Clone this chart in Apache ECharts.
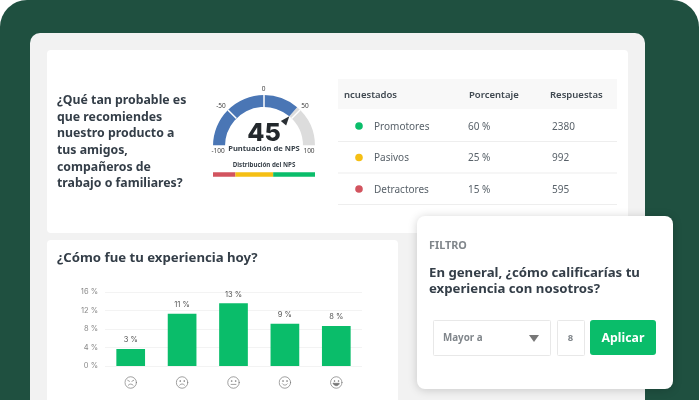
<!DOCTYPE html>
<html>
<head>
<meta charset="utf-8" />
<title>NPS</title>
<script src="https://cdn.jsdelivr.net/npm/echarts@6/dist/echarts.min.js"></script>
<style>
html,body{margin:0;padding:0;background:#fff;}
#main{width:699px;height:400px;}
</style>
</head>
<body>
<div id="main"></div>
<script type="text/javascript">
// datos
var caritas = ['muyMal', 'mal', 'neutral', 'bien', 'muyBien'];
var experiencia = [3.68, 11.3, 13.55, 9.15, 8.65];
var experienciaEtiquetas = ['3 %', '11 %', '13 %', '9 %', '8 %'];
var npsValor = 45;
var npsTicks = ['-100', '-50', '0', '50', '100'];
var distribucionNombres = ['Detractores', 'Pasivos', 'Promotores'];
var distribucion = [22, 37, 41];
var distribucionColores = ['#d2545f', '#f5bf14', '#0abd6a'];
var tablaCabecera = ['ncuestados', 'Porcentaje', 'Respuestas'];
var tablaNombres = ['Promotores', 'Pasivos', 'Detractores'];
var tablaPorcentaje = ['60 %', '25 %', '15 %'];
var tablaRespuestas = ['2380', '992', '595'];
var tablaColores = ['#0abd6a', '#f5bf14', '#d2545f'];
var preguntaLineas = ['¿Qué tan probable es', 'que recomiendes', 'nuestro producto a', 'tus amigos,', 'compañeros de', 'trabajo o familiares?'];
var filtroLineas = ['En general, ¿cómo calificarías tu', 'experiencia con nosotros?'];

var FONT = '"Noto Sans", sans-serif';
var DARK = '#343e48';

function rect(x, y, w, h, fill, r, extra) {
	var s = {fill: fill};
	for (var k in extra) s[k] = extra[k];
	return {type: 'rect', z: -1, shape: {x: x, y: y, width: w, height: h, r: r || 0}, style: s, silent: true};
}
function texto(t, x, y, size, weight, color, align) {
	return {type: 'text', z: 10, x: x, y: y + 0.7, silent: true, style: {
		text: t, fill: color, textAlign: align || 'left', textVerticalAlign: 'middle',
		font: weight + ' ' + size + 'px ' + FONT
	}};
}

// caritas como svg
function carita(boca, ojos) {
	var svg = '<svg xmlns="http://www.w3.org/2000/svg" width="48" height="48" viewBox="0 0 24 24" fill="none" stroke="#777" stroke-width="1.3" stroke-linecap="round">'
		+ '<circle cx="12" cy="12" r="10.6"/>' + ojos + boca + '</svg>';
	return 'data:image/svg+xml;charset=utf-8,' + encodeURIComponent(svg);
}
var ojosNormal = '<circle cx="8.3" cy="9.3" r=".7"/><circle cx="15.7" cy="9.3" r=".7"/>';
var caritaSvg = {
	muyMal: carita('<path d="M7.5 17c2.5-3 6.500-3 9 0"/>', '<path d="M6.500 8l3.300 1.800M17.500 8l-3.300 1.800"/>'),
	mal: carita('<path d="M7.500 16.800c2.500-3 6.500-3 9 0"/>', ojosNormal),
	neutral: carita('<path d="M7.500 15.500h9"/>', ojosNormal),
	bien: carita('<path d="M7.500 14.500c2.500 3.200 6.500 3.200 9 0"/>', ojosNormal),
	muyBien: carita('<path d="M6.500 13.500h11c-.5 6-10.500 6-11 0z" fill="#777"/>', ojosNormal)
};
var caritaRich = {};
caritas.forEach(function (c) {
	caritaRich[c] = {width: 13, height: 13, backgroundColor: {image: caritaSvg[c]}};
});

// fondo y tarjetas
var grafico = [
	rect(0, 0, 699, 440, '#1f5040', 27),
	rect(30, 33, 615, 400, '#f2f2f2', 10),
	rect(47, 50, 581, 183, '#ffffff', 4),
	rect(47, 240, 351, 190, '#ffffff', 4),
	rect(338, 79, 279, 30, '#f8f8f8', 0)
];
preguntaLineas.forEach(function (l, i) {
	grafico.push(texto(l, 57, 100 + i * 16.6, 12.3, 700, DARK));
});
grafico.push(texto('¿Cómo fue tu experiencia hoy?', 57, 258, 13.2, 700, DARK));

// tabla
var tablaX = [344, 469, 550];
tablaCabecera.forEach(function (t, i) {
	grafico.push(texto(t, tablaX[i], 95, 9.5, 600, '#3f4850'));
});
tablaNombres.forEach(function (n, i) {
	var y = 126 + i * 31.5;
	grafico.push({type: 'circle', z: 10, silent: true, shape: {cx: 359, cy: y, r: 3.8}, style: {fill: tablaColores[i]}});
	grafico.push(texto(n, 374, y, 10, 400, '#59626a'));
	grafico.push(texto(tablaPorcentaje[i], 468, y, 10, 400, '#59626a'));
	grafico.push(texto(tablaRespuestas[i], 552, y, 10, 400, '#59626a'));
	grafico.push(rect(338, 141 + i * 31.5, 279, 1, '#eeeeee'));
});

// etiquetas del medidor: no siguen un radio fijo
var ticksX = [218, 221, 263.5, 305, 309];
var ticksY = [150, 105.5, 88, 105.5, 150];
npsTicks.forEach(function (t, i) {
	grafico.push(texto(t, ticksX[i], ticksY[i], 6.5, 400, '#444', 'center'));
});
grafico.push(texto('Distribución del NPS', 264, 165, 6.2, 700, '#3a434b', 'center'));

// filtro
var filtro = [
	rect(417, 216, 256, 173, '#ffffff', 8, {shadowBlur: 10, shadowColor: 'rgba(0,0,0,0.18)', shadowOffsetY: 1}),
	rect(433.5, 320.5, 117, 35, '#ffffff', 1, {stroke: '#e8e8e8', lineWidth: 1}),
	rect(557.5, 320.5, 27, 35, '#ffffff', 1, {stroke: '#e8e8e8', lineWidth: 1}),
	rect(590, 320, 66, 35, '#0abd6a', 3),
	{type: 'polygon', z: 10, silent: true, shape: {points: [[529, 335], [539, 335], [534, 342]]}, style: {fill: '#777'}},
	texto('FILTRO', 429, 245, 10.8, 700, '#80868b'),
	texto('Mayor a', 443, 338, 9.8, 700, '#80868b'),
	texto('8', 570.500, 338, 9.5, 700, '#80868b', 'center'),
	texto('Aplicar', 623, 338, 12.3, 700, '#ffffff', 'center')
];
filtroLineas.forEach(function (l, i) {
	filtro.push(texto(l, 429, 273 + i * 15.3, 13.2, 700, DARK));
});
filtro.forEach(function (e, i) { if (e.z === -1) e.z = 5; });
grafico = grafico.concat(filtro);

var series = [
	{
		type: 'gauge',
		center: [264, 146],
		radius: 51,
		startAngle: 180,
		endAngle: 0,
		min: -100,
		max: 100,
		splitNumber: 4,
		silent: true,
		progress: {show: false},
		axisLine: {
			lineStyle: {
				width: 12,
				color: [[(npsValor + 100) / 200, '#4a76b5'], [1, '#dcdcdc']]
			}
		},
		axisTick: {show: false},
		splitLine: {distance: -12, length: 12, lineStyle: {color: '#ffffff', width: 1.5}},
		axisLabel: {show: false},
		pointer: {
			icon: 'triangle',
			length: 9,
			width: 7,
			offsetCenter: [0, -30],
			itemStyle: {color: '#2a2f33'}
		},
		anchor: {show: false},
		title: {offsetCenter: [0, 2.5], fontSize: 7.6, fontWeight: 700, fontFamily: FONT, color: '#3a434b'},
		detail: {offsetCenter: [0, -13], fontSize: 25, fontWeight: 800, fontFamily: 'Inter', color: '#23282c', formatter: '{value}'},
		data: [{value: npsValor, name: 'Puntuación de NPS'}]
	},
	{
		type: 'bar',
		xAxisIndex: 0,
		yAxisIndex: 0,
		data: experiencia,
		barWidth: 28.7,
		silent: true,
		itemStyle: {color: '#0abd6a'},
		label: {
			show: true,
			position: 'top',
			distance: 5,
			fontSize: 7.5,
			fontFamily: 'Inter',
			color: '#555',
			formatter: function (p) { return experienciaEtiquetas[p.dataIndex]; }
		}
	}
];
distribucion.forEach(function (v, i) {
	series.push({
		type: 'bar',
		name: distribucionNombres[i],
		xAxisIndex: 1,
		yAxisIndex: 1,
		stack: 'nps',
		barWidth: 4.500,
		silent: true,
		itemStyle: {color: distribucionColores[i]},
		data: [v]
	});
});

var myChart = echarts.init(document.getElementById('main'));
myChart.setOption({
	animation: false,
	backgroundColor: '#ffffff',
	graphic: {elements: grafico},
	grid: [
		{left: 105, top: 292, width: 257, height: 74},
		{left: 213, top: 172, width: 102, height: 5}
	],
	xAxis: [
		{
			type: 'category',
			gridIndex: 0,
			data: caritas,
			axisLine: {show: false},
			axisTick: {show: false},
			axisLabel: {
				interval: 0,
				margin: 10,
				formatter: function (v) { return '{' + v + '|}'; },
				rich: caritaRich
			}
		},
		{type: 'value', gridIndex: 1, min: 0, max: 100, show: false}
	],
	yAxis: [
		{
			type: 'value',
			gridIndex: 0,
			min: 0,
			max: 16,
			interval: 4,
			axisLine: {show: false},
			axisTick: {show: false},
			axisLabel: {margin: 7, fontSize: 7.5, fontFamily: 'Inter', color: '#888', formatter: '{value} %'},
			splitLine: {lineStyle: {color: '#f3f3f3', width: 1}}
		},
		{type: 'category', gridIndex: 1, data: ['NPS'], show: false}
	],
	series: series
});
</script>
</body>
</html>
